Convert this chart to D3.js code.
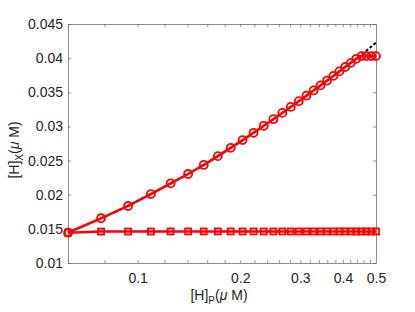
<!DOCTYPE html>
<html>
<head>
<meta charset="utf-8">
<script src="https://cdn.jsdelivr.net/npm/d3@7"></script>
<style>
  html, body { margin: 0; padding: 0; background: #fff; }
  svg { display: block; }
  text { font-family: "Liberation Sans", Arial, Helvetica, sans-serif; fill: #262626; }
</style>
</head>
<body>
<svg id="chart" width="415" height="312"></svg>
<script>
// ---- data ----
const hP = [4,5,6,7,8,9,10,11,12,13,14,15,16,17,18,19,20,21,22,23,24,25,26,27,28,29,30,31,32].map(k => k / 64);
const hXcircle = [0.01444,0.01655,0.01835,0.02010,0.02167,0.02303,0.02436,0.02565,0.02686,0.02800,
  0.02907,0.03009,0.03106,0.03198,0.03286,0.03370,0.03450,0.03527,0.03601,0.03672,
  0.03740,0.03806,0.03870,0.03931,0.03990,0.04030,0.04030,0.04030,0.04030];
const hXsquare = [0.01444,0.01460,0.01461,0.01461,0.01462,0.01462,0.01462,0.01462,0.01462,0.01462,
  0.01462,0.01462,0.01462,0.01462,0.01462,0.01462,0.01462,0.01462,0.01462,0.01462,
  0.01462,0.01462,0.01462,0.01462,0.01462,0.01462,0.01462,0.01462,0.01462];
const hXdashed = [0.01444,0.01655,0.01835,0.02010,0.02167,0.02303,0.02436,0.02565,0.02686,0.02800,
  0.02907,0.03009,0.03106,0.03198,0.03286,0.03370,0.03450,0.03527,0.03601,0.03672,
  0.03740,0.03806,0.03870,0.03931,0.03990,0.04050,0.04110,0.04170,0.04230];
const xTicks = [0.08,0.1,0.12,0.14,0.16,0.18,0.2,0.22,0.24,0.26,0.28,0.3,0.32,0.34,0.36,0.38,0.4,0.42,0.44,0.46,0.48,0.5];
const xTickLabels = {0.1:"0.1", 0.2:"0.2", 0.3:"0.3", 0.4:"0.4", 0.5:"0.5"};
const yTicks = [0.01,0.015,0.02,0.025,0.03,0.035,0.04,0.045];
const yTickLabels = ["0.01","0.015","0.02","0.025","0.03","0.035","0.04","0.045"];

// ---- layout ----
const L = 68, R = 376, T = 24, B = 263;
const svg = d3.select("#chart");
const x = d3.scaleLog().domain([0.0625, 0.5]).range([L, R]);
const y = d3.scaleLinear().domain([0.01, 0.045]).range([B, T]);

const axisColor = "#262626";
const fs = 14;

// axes
const gB = svg.append("g").attr("transform", `translate(0,${B})`)
  .call(d3.axisBottom(x).tickValues(xTicks).tickSizeInner(-3).tickSizeOuter(0).tickPadding(10)
    .tickFormat(d => xTickLabels[d] || ""));
const gT = svg.append("g").attr("transform", `translate(0,${T})`)
  .call(d3.axisTop(x).tickValues(xTicks).tickSizeInner(-3).tickSizeOuter(0).tickFormat(""));
const gL = svg.append("g").attr("transform", `translate(${L},0)`)
  .call(d3.axisLeft(y).tickValues(yTicks).tickSizeInner(-3).tickSizeOuter(0).tickPadding(5)
    .tickFormat((d,i) => yTickLabels[i]));
const gR = svg.append("g").attr("transform", `translate(${R},0)`)
  .call(d3.axisRight(y).tickValues(yTicks).tickSizeInner(-3).tickSizeOuter(0).tickFormat(""));

[gB, gT, gL, gR].forEach(g => {
  g.select(".domain").attr("stroke", "#8c8c8c").attr("stroke-width", 1);
  g.selectAll(".tick line").attr("stroke", "#555").attr("stroke-width", 0.6);
  g.selectAll("text").attr("font-size", fs).attr("fill", axisColor)
    .attr("font-family", '"Liberation Sans", Arial, sans-serif');
});

const line = (arr) => d3.line().x((d,i) => x(hP[i])).y(d => y(d))(arr);

// dashed reference (underneath)
svg.append("path").attr("d", line(hXdashed)).attr("fill", "none")
  .attr("stroke", "#000").attr("stroke-width", 2).attr("stroke-dasharray", "3,2");

// lines
svg.append("path").attr("d", line(hXsquare)).attr("fill", "none")
  .attr("stroke", "#ff0000").attr("stroke-width", 2.5);
svg.append("path").attr("d", line(hXcircle)).attr("fill", "none")
  .attr("stroke", "#ff0000").attr("stroke-width", 2.5);

// markers
svg.append("g").selectAll("rect").data(hXsquare).join("rect")
  .attr("x", (d,i) => x(hP[i]) - 3).attr("y", d => y(d) - 3)
  .attr("width", 6).attr("height", 6)
  .attr("fill", "none").attr("stroke", "#ff0000").attr("stroke-width", 1.8);
svg.append("g").selectAll("circle").data(hXcircle).join("circle")
  .attr("cx", (d,i) => x(hP[i])).attr("cy", d => y(d)).attr("r", 4)
  .attr("fill", "none").attr("stroke", "#ff0000").attr("stroke-width", 1.8);

// axis labels
const xl = svg.append("text").attr("x", 219).attr("y", 300).attr("text-anchor", "middle")
  .attr("font-size", fs);
xl.append("tspan").text("[H]");
xl.append("tspan").attr("font-size", 10).attr("dy", 4).text("P");
xl.append("tspan").attr("dy", -4).text("(");
xl.append("tspan").attr("font-style", "italic").text("μ");
xl.append("tspan").text(" M)");

const yl = svg.append("text").attr("transform", "translate(19,150) rotate(-90)")
  .attr("text-anchor", "middle").attr("font-size", fs);
yl.append("tspan").text("[H]");
yl.append("tspan").attr("font-size", 10).attr("dy", 4).text("X");
yl.append("tspan").attr("dy", -4).text("(");
yl.append("tspan").attr("font-style", "italic").text("μ");
yl.append("tspan").text(" M)");
</script>
</body>
</html>
